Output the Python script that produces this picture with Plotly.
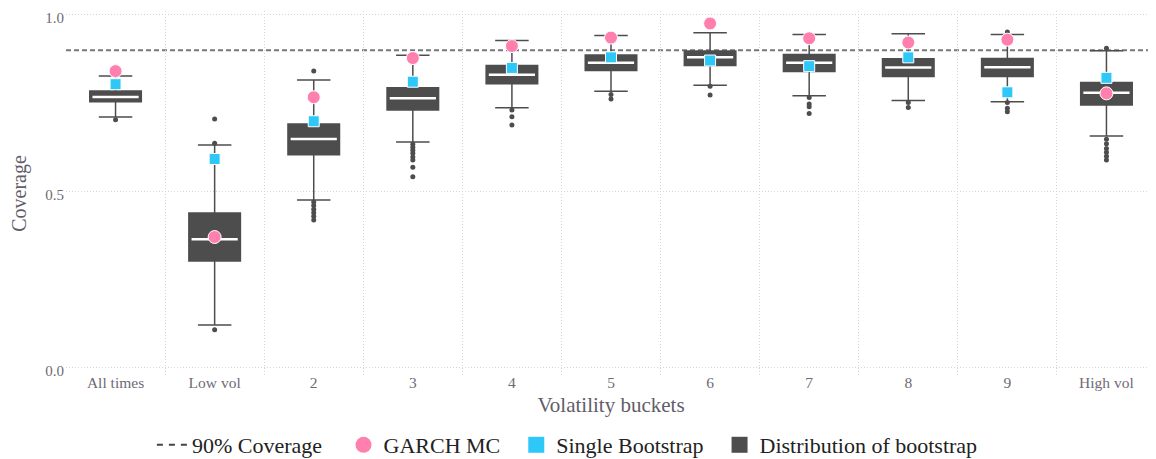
import plotly.graph_objects as go

categories = ["All times", "Low vol", "2", "3", "4", "5", "6", "7", "8", "9", "High vol"]

box_q1 = [0.754, 0.303, 0.604, 0.731, 0.805, 0.843, 0.857, 0.840, 0.826, 0.826, 0.745]
box_median = [0.768, 0.365, 0.649, 0.764, 0.831, 0.865, 0.880, 0.865, 0.851, 0.852, 0.780]
box_q3 = [0.785, 0.439, 0.691, 0.794, 0.857, 0.887, 0.898, 0.888, 0.876, 0.877, 0.809]
whisker_low = [0.711, 0.122, 0.476, 0.640, 0.737, 0.784, 0.801, 0.771, 0.758, 0.754, 0.657]
whisker_high = [0.827, 0.632, 0.816, 0.886, 0.928, 0.942, 0.950, 0.945, 0.947, 0.945, 0.899]
outliers = [
    [0.703],
    [0.637, 0.705, 0.108],
    [0.841, 0.470, 0.460, 0.450, 0.440, 0.430, 0.419],
    [0.634, 0.625, 0.617, 0.608, 0.598, 0.589, 0.569, 0.542],
    [0.731, 0.712, 0.688],
    [0.775, 0.762],
    [0.798, 0.773],
    [0.766, 0.748, 0.740, 0.721],
    [0.752, 0.738],
    [0.952, 0.752, 0.736, 0.726],
    [0.906, 0.648, 0.635, 0.622, 0.611, 0.600, 0.589],
]
garch_mc = [0.841, 0.371, 0.767, 0.878, 0.912, 0.936, 0.976, 0.934, 0.922, 0.930, 0.778]
single_bootstrap = [0.804, 0.592, 0.699, 0.811, 0.850, 0.880, 0.871, 0.855, 0.880, 0.781, 0.822]
coverage_target = 0.9

legend_names = ["90% Coverage", "GARCH MC", "Single Bootstrap", "Distribution of bootstrap"]
legend_pad = ["\u00a0\u00a0\u00a0", "\u00a0\u00a0", "\u00a0\u00a0", ""]

FONT = "Liberation Serif"
DARK = "#4d4d4d"
PINK = "#ff80ae"
CYAN = "#2ec8f8"
GRID = "#d3d3e2"
TICK = "#6f6a75"

xpos = list(range(len(categories)))

fig = go.Figure()

fig.add_trace(go.Box(
    x=xpos, q1=box_q1, median=box_median, q3=box_q3,
    lowerfence=whisker_low, upperfence=whisker_high,
    width=0.52, whiskerwidth=0.65, boxpoints=False,
    fillcolor=DARK, line=dict(color=DARK, width=1.5),
    showlegend=False, hoverinfo="skip"))

fig.add_trace(go.Scatter(
    x=xpos, y=box_median, mode="markers", showlegend=False, hoverinfo="skip",
    marker=dict(symbol="line-ew", size=33, line=dict(color="white", width=2.5))))

ox, oy = [], []
for i, vals in enumerate(outliers):
    for v in vals:
        ox.append(i)
        oy.append(v)
fig.add_trace(go.Scatter(x=ox, y=oy, mode="markers", showlegend=False, hoverinfo="skip",
                         marker=dict(color=DARK, size=5)))

fig.add_trace(go.Scatter(x=xpos, y=single_bootstrap, mode="markers", showlegend=False,
                         marker=dict(symbol="square", color=CYAN, size=11,
                                     line=dict(color="white", width=1))))
fig.add_trace(go.Scatter(x=xpos, y=garch_mc, mode="markers", showlegend=False,
                         marker=dict(symbol="circle", color=PINK, size=13,
                                     line=dict(color="white", width=1))))

# legend proxies
fig.add_trace(go.Scatter(x=[None], y=[None], mode="lines", name=legend_names[0] + legend_pad[0],
                         line=dict(color="#444444", dash="6px,6px", width=2)))
fig.add_trace(go.Scatter(x=[None], y=[None], mode="markers", name=legend_names[1] + legend_pad[1],
                         marker=dict(symbol="circle", color=PINK, size=16)))
fig.add_trace(go.Scatter(x=[None], y=[None], mode="markers", name=legend_names[2] + legend_pad[2],
                         marker=dict(symbol="square", color=CYAN, size=16)))
fig.add_trace(go.Scatter(x=[None], y=[None], mode="markers", name=legend_names[3] + legend_pad[3],
                         marker=dict(symbol="square", color=DARK, size=16)))

fig.add_hline(y=coverage_target, line=dict(color="#777777", dash="5px,3px", width=2), layer="below")

fig.update_layout(
    width=1148, height=470,
    margin=dict(l=58, r=0, t=3, b=102),
    plot_bgcolor="white", paper_bgcolor="white",
    font=dict(family=FONT, color="#333333"),
    hovermode=False,
    legend=dict(orientation="h", x=0.46, xanchor="center", y=-0.189, yanchor="middle",
                font=dict(size=22, color="#222222"), itemsizing="trace"),
    xaxis=dict(
        range=[-0.5, 10.5], tickmode="array", tickvals=xpos, ticktext=categories,
        showgrid=False, zeroline=False, showline=False, ticks="", automargin=False,
        tickfont=dict(size=15.5, color=TICK), ticklabelstandoff=-5,
        title=dict(text="Volatility buckets", font=dict(size=21, color="#625d69"), standoff=7),
        minor=dict(tickmode="array", tickvals=[i + 0.5 for i in range(-1, 11)],
                   showgrid=True, gridcolor=GRID, griddash="1px,2px", gridwidth=1),
    ),
    yaxis=dict(
        range=[-0.0227, 1.0113], tickmode="array", tickvals=[0.0, 0.5, 1.0],
        ticktext=["0.0", "0.5", "1.0"], automargin=False, ticklabeloverflow="allow",
        showgrid=True, gridcolor=GRID, griddash="1px,2px", gridwidth=1,
        zeroline=False, showline=False, ticks="",
        tickfont=dict(size=15, color=TICK), ticklabelstandoff=1, ticklabelshift=3,
        title=dict(text="Coverage", font=dict(size=20, color="#625d69"), standoff=16),
    ),
)

fig.write_html("out.html")
